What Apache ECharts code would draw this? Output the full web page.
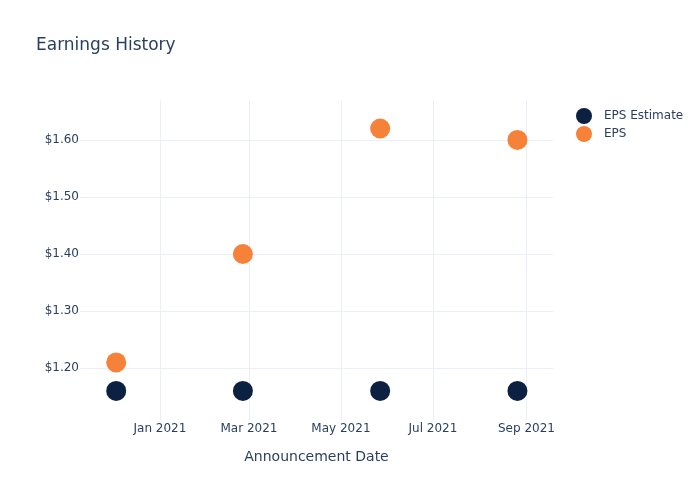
<!DOCTYPE html>
<html>
<head>
<meta charset="utf-8">
<script src="https://cdn.jsdelivr.net/npm/echarts@6/dist/echarts.min.js"></script>
<style>html,body{margin:0;padding:0;background:#fff}#c{width:700px;height:500px}</style>
</head>
<body>
<div id="c"></div>
<script>
const dates = ['2020-12-03', '2021-02-25', '2021-05-27', '2021-08-26'];
const epsEstimate = [1.16, 1.16, 1.16, 1.16];
const eps = [1.21, 1.40, 1.62, 1.60];
const xTickDates = ['2021-01-01', '2021-03-01', '2021-05-01', '2021-07-01', '2021-09-01'];
const xTickLabels = ['Jan 2021', 'Mar 2021', 'May 2021', 'Jul 2021', 'Sep 2021'];
const yTicks = [1.2, 1.3, 1.4, 1.5, 1.6];
const xRange = ['2020-11-09T00:00:00', '2021-09-18T14:00:00'];
const yRange = [1.109, 1.670];

const ts = s => new Date(s + (s.length === 10 ? 'T00:00:00Z' : 'Z')).getTime();
const xTickTs = xTickDates.map(ts);
const font = 'DejaVu Sans, sans-serif';
const textColor = '#2a3f5f';
const gridColor = '#ebf0f8';

const chart = echarts.init(document.getElementById('c'));
chart.setOption({
  animation: false,
  backgroundColor: '#fff',
  textStyle: { fontFamily: font },
  title: {
    text: 'Earnings History', left: 31, top: 32,
    textStyle: { fontFamily: font, fontSize: 17, fontWeight: 'normal', color: textColor }
  },
  legend: {
    orient: 'vertical', left: 571, top: 103, itemWidth: 30, itemHeight: 16, itemGap: 2,
    icon: 'circle',
    textStyle: { fontFamily: font, fontSize: 12, color: textColor },
    data: ['EPS Estimate', 'EPS']
  },
  grid: { left: 80, right: 147, top: 100, bottom: 80, containLabel: false },
  xAxis: {
    type: 'value', min: ts(xRange[0]), max: ts(xRange[1]), scale: true,
    name: 'Announcement Date', nameLocation: 'middle', nameGap: 30,
    nameTextStyle: { fontFamily: font, fontSize: 14, color: textColor },
    axisLine: { show: false }, axisTick: { show: false, customValues: xTickTs },
    axisLabel: {
      customValues: xTickTs, margin: 3, fontFamily: font, fontSize: 12, color: textColor,
      formatter: v => { const i = xTickTs.indexOf(v); return i >= 0 ? xTickLabels[i] : ''; }
    },
    splitLine: { show: true, lineStyle: { color: gridColor, width: 1 } }
  },
  yAxis: {
    type: 'value', min: yRange[0], max: yRange[1], scale: true,
    axisLine: { show: false }, axisTick: { show: false, customValues: yTicks },
    axisLabel: {
      customValues: yTicks, margin: 1, fontFamily: font, fontSize: 12, color: textColor,
      formatter: v => '$' + v.toFixed(2)
    },
    splitLine: { show: true, lineStyle: { color: gridColor, width: 1 } }
  },
  series: [
    {
      name: 'EPS Estimate', type: 'scatter', symbolSize: 20,
      itemStyle: { color: '#0c2041', opacity: 1 },
      data: dates.map((d, i) => [ts(d), epsEstimate[i]])
    },
    {
      name: 'EPS', type: 'scatter', symbolSize: 20,
      itemStyle: { color: '#f6823a', opacity: 1 },
      data: dates.map((d, i) => [ts(d), eps[i]])
    }
  ]
});
</script>
</body>
</html>
